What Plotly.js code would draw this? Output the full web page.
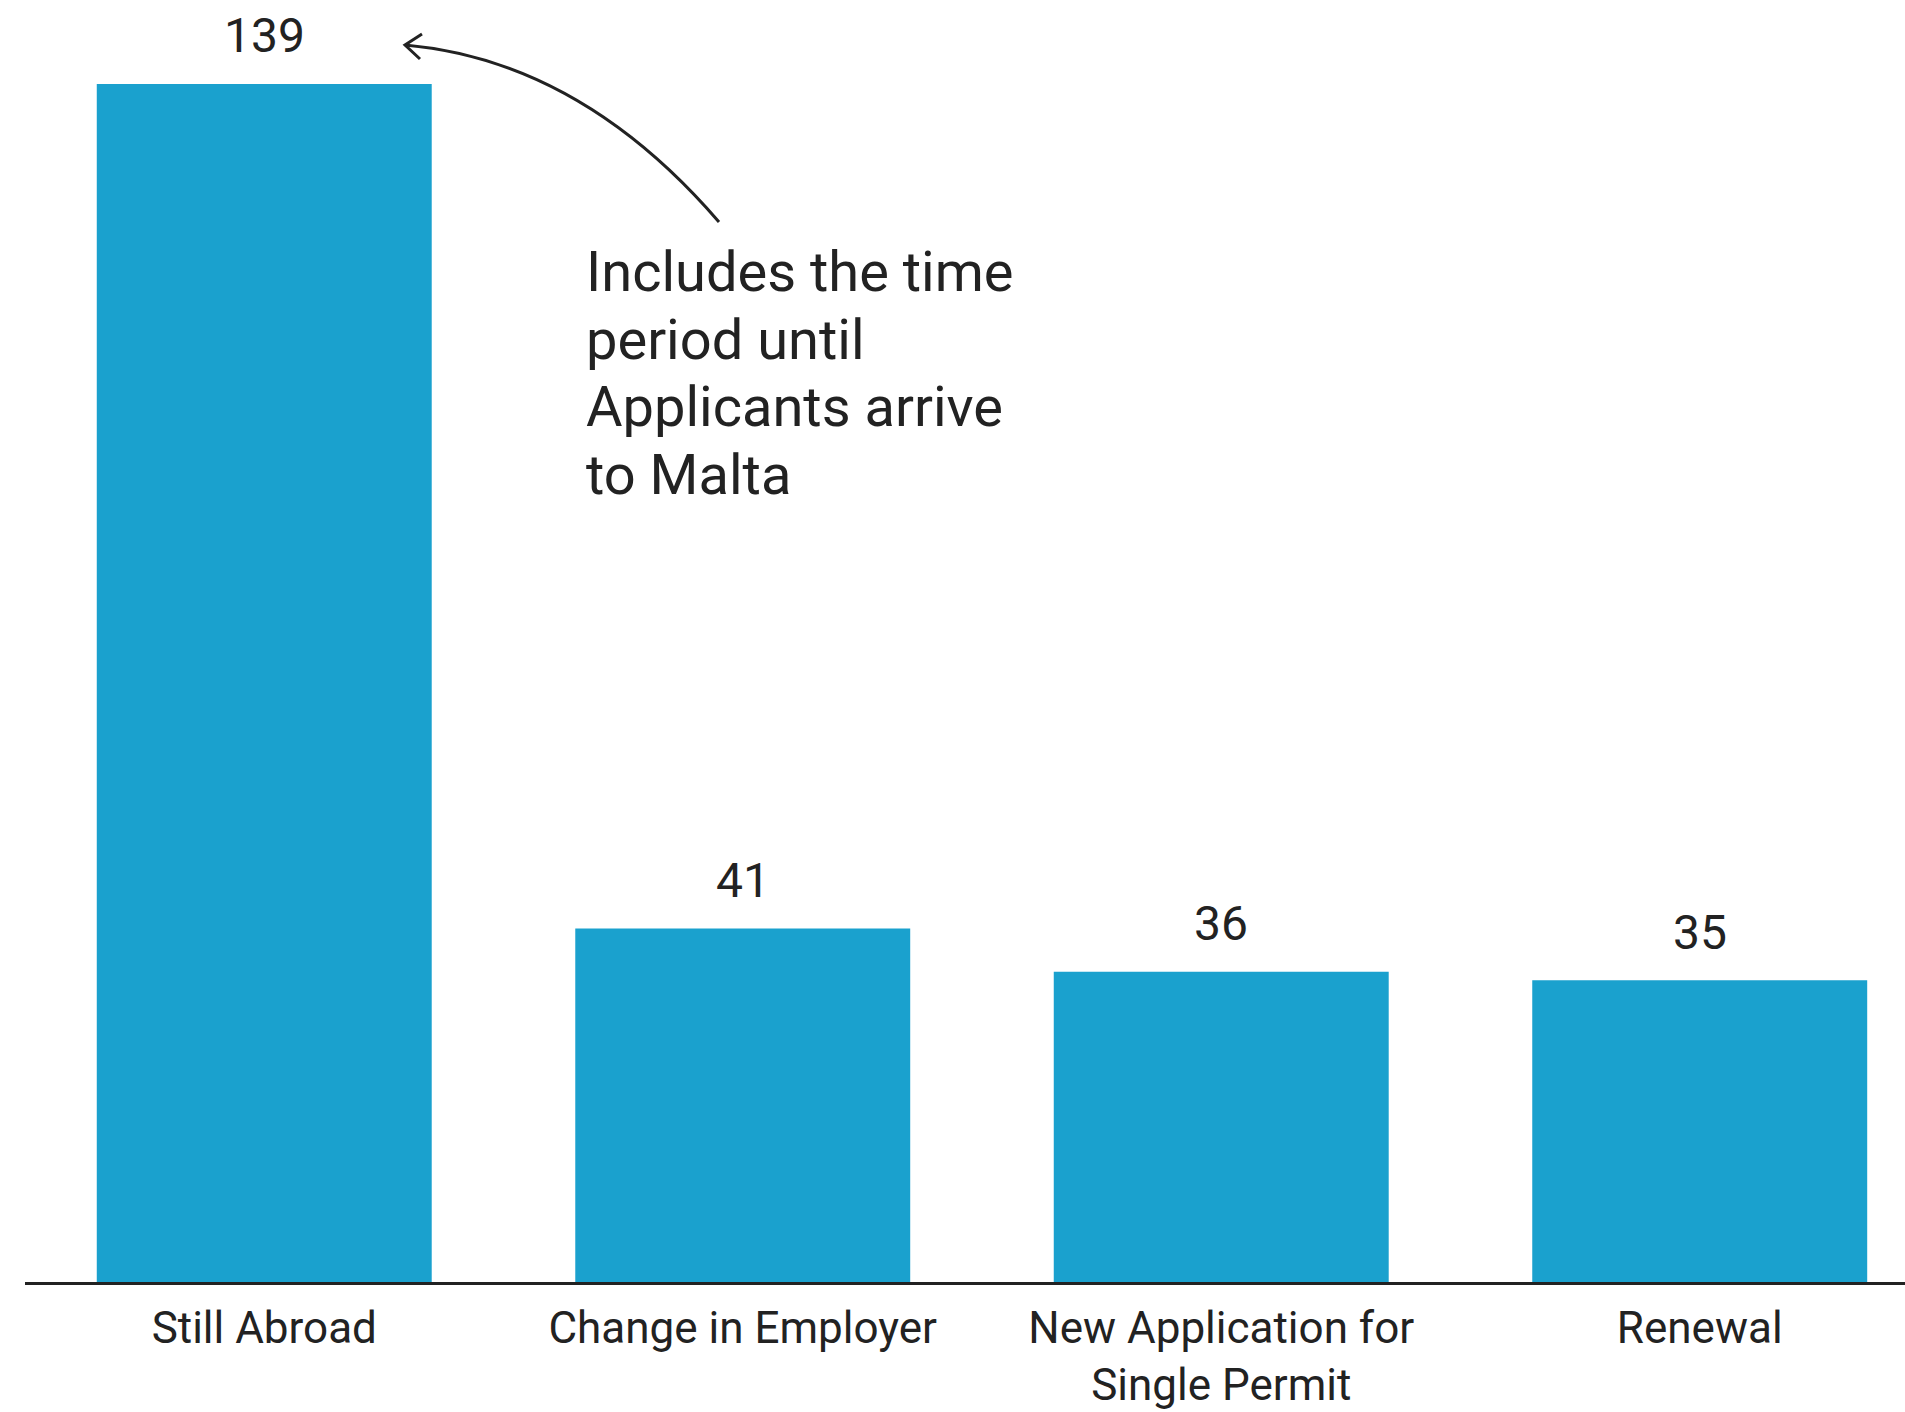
<!DOCTYPE html>
<html>
<head>
<meta charset="utf-8">
<script src="https://cdn.plot.ly/plotly-3.0.1.min.js"></script>
<style>html,body{margin:0;padding:0;background:#fff;}#chart{width:1905px;height:1412px;}</style>
</head>
<body>
<div id="chart"></div>
<script>
const categories = ["Still Abroad", "Change in Employer", "New Application for<br>Single Permit", "Renewal"];
const values = [139, 41, 36, 35];
const noteLines = ["Includes the time", "period until", "Applicants arrive", "to Malta"];

const W = 1905, H = 1412;
const mL = 25, mR = 0, mT = 0, mB = 130;
const pw = W - mL - mR, ph = H - mT - mB;
function px(x) { return (x - mL) / pw; }
function py(y) { return 1 - (y - mT) / ph; }

const barColor = "#1AA1CE";
const textColor = "#222222";
const fontFamily = "Roboto, 'Noto Sans', sans-serif";

const trace = {
  type: "bar",
  x: categories,
  y: values,
  marker: { color: barColor, line: { width: 0 } },
  width: 0.7,
  hoverinfo: "none"
};

const valueAnnotations = categories.map((c, i) => ({
  x: c, y: values[i], xref: "x", yref: "y",
  text: String(values[i]), showarrow: false,
  yanchor: "middle", yshift: 48,
  font: { family: fontFamily, size: 48, color: textColor }
}));

const noteAnnotations = noteLines.map((t, i) => ({
  xref: "paper", yref: "paper",
  x: px(584), y: py(272.5 + i * 67.4),
  xanchor: "left", yanchor: "middle", align: "left",
  text: t, showarrow: false,
  font: { family: fontFamily, size: 56, color: textColor }
}));

const layout = {
  width: W, height: H,
  margin: { l: mL, r: mR, t: mT, b: mB, pad: 0 },
  paper_bgcolor: "#ffffff", plot_bgcolor: "#ffffff",
  showlegend: false,
  bargap: 0.3,
  xaxis: {
    type: "category",
    range: [-0.5, 3.429],
    showline: true, linecolor: "#222222", linewidth: 3,
    showgrid: false, zeroline: false,
    ticks: "", ticklabelstandoff: 5,
    tickfont: { family: fontFamily, size: 44, color: textColor },
    fixedrange: true
  },
  yaxis: {
    range: [0, 148.74],
    visible: false, showgrid: false, zeroline: false,
    fixedrange: true
  },
  annotations: valueAnnotations.concat(noteAnnotations),
  shapes: [
    {
      type: "path", xref: "paper", yref: "paper",
      path: `M ${px(405)},${py(45)} Q ${px(580)},${py(60.5)} ${px(719)},${py(222)}`,
      line: { color: textColor, width: 3 }
    },
    {
      type: "path", xref: "paper", yref: "paper",
      path: `M ${px(420)},${py(59)} L ${px(405)},${py(45)} L ${px(422)},${py(34)}`,
      line: { color: textColor, width: 3 }
    }
  ]
};

Plotly.newPlot("chart", [trace], layout, { displayModeBar: false, staticPlot: true });
</script>
</body>
</html>
